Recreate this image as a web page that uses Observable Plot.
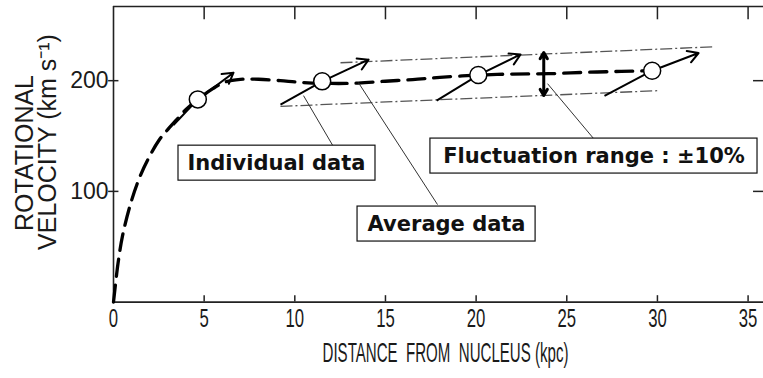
<!DOCTYPE html>
<html><head><meta charset="utf-8">
<script src="https://cdn.jsdelivr.net/npm/d3@7"></script>
<script src="https://cdn.jsdelivr.net/npm/@observablehq/plot@0.6"></script>
<style>body{margin:0;background:#fff;} svg{display:block}</style>
</head><body><div id="chart"></div>
<script>
// ---- data ----
const xTicks = [0, 5, 10, 15, 20, 25, 30, 35];
const yTicks = [100, 200];
const avgX = [0, 0.25, 0.5, 1, 1.5, 2, 2.5, 3, 3.5, 4, 4.65, 5.5, 6.2, 7, 8, 9.2, 10.3, 12, 13.5, 15, 16.5, 18, 20.1, 22, 24, 26, 28, 29.7];
const avgY = [0, 35, 60, 92, 115, 132, 146, 156, 165, 174, 183, 193, 199, 201.2, 201.3, 200, 198.5, 197.5, 197.8, 199.5, 201, 203, 205, 206, 206.3, 207.5, 208.4, 209];
const indStartX = [3.31, 9.21, 17.82, 27.08];
const indStartY = [160, 178.3, 181.9, 186.2];
const indMidX = [4.65, 11.51, 20.12, 29.71];
const indMidY = [183.1, 199.4, 205.1, 209];
const indEndX = [6.62, 14.07, 22.45, 32.27];
const indEndY = [207.2, 219, 223.7, 225];
const bandX1 = [12.52, 9.21];
const bandY1 = [216.2, 176.8];
const bandX2 = [33.1, 30.06];
const bandY2 = [230.6, 191];
const rangeX = 23.73;
const rangeMid = 205.9;
const rangeEnds = [225.5, 186.5];
const labels = ["Individual data", "Average data", "Fluctuation range : \u00b110%"];
const labelX = [8.99, 18.37, 26.5];
const labelY = [125.5, 70.5, 131.9];
const boxX1 = [3.585, 13.46, 17.48];
const boxX2 = [14.45, 23.28, 35.52];
const boxTop = [141.3, 86.3, 147.7];
const boxBottom = [109.7, 54.7, 116.1];
const leadX1 = [10.48, 13.51, 23.94];
const leadY1 = [186.5, 198.2, 197.3];
const leadX2 = [12.13, 17.87, 26.48];
const leadY2 = [140.4, 88.1, 147.7];
const xTitle = "DISTANCE  FROM  NUCLEUS (kpc)";
const yTitle1 = "ROTATIONAL";
const yTitle2 = "VELOCITY (km s\u207b\u00b9)";

// ---- tables ----
const avg = avgX.map((x, i) => ({x, y: avgY[i]}));
const ind = indStartX.map((x, i) => ({x0: x, y0: indStartY[i], xm: indMidX[i], ym: indMidY[i], x1: indEndX[i], y1: indEndY[i]}));
const bands = bandX1.map((x, i) => ({x1: x, y1: bandY1[i], x2: bandX2[i], y2: bandY2[i]}));
const ann = labels.map((t, i) => ({t, x: labelX[i], y: labelY[i], bx1: boxX1[i], bx2: boxX2[i], bt: boxTop[i], bb: boxBottom[i],
  lx1: leadX1[i], ly1: leadY1[i], lx2: leadX2[i], ly2: leadY2[i]}));
const rng = rangeEnds.map(e => ({x: rangeX, y1: rangeMid, y2: e}));
const xMax = 35.85, yMax = 267;

const chart = Plot.plot({
  width: 763, height: 378,
  marginLeft: 113, marginRight: 0, marginTop: 6, marginBottom: 76.4,
  x: {domain: [0, xMax]},
  y: {domain: [0, yMax]},
  style: {background: "#fff", fontFamily: "'Liberation Sans', Arial, sans-serif", color: "#1a1a1a"},
  marks: [
    // frame (left, top, bottom)
    Plot.ruleX([0], {y1: 0, y2: yMax, stroke: "#222", strokeWidth: 1.6}),
    Plot.ruleY([0, yMax], {x1: 0, x2: xMax, stroke: "#222", strokeWidth: 1.6}),
    // inward ticks
    Plot.ruleX(xTicks.slice(1), {y1: 0, y2: 5.8, stroke: "#222", strokeWidth: 1.5}),
    Plot.ruleX(xTicks.slice(1), {y1: yMax, y2: yMax - 12, stroke: "#222", strokeWidth: 1.5}),
    Plot.ruleY(yTicks, {x1: -0.27, x2: 0.3, stroke: "#222", strokeWidth: 1.5}),
    Plot.ruleY(yTicks, {x1: 35.3, x2: xMax, stroke: "#222", strokeWidth: 1.5}),
    // axes labels
    Plot.axisX(xTicks, {anchor: "bottom", tickSize: 0, tickPadding: 7, fontSize: 25, label: null, fill: "#1a1a1a"}),
    Plot.axisY(yTicks, {anchor: "left", tickSize: 0, tickPadding: 5, fontSize: 23, label: null, fill: "#1a1a1a"}),
    Plot.text([xTitle], {frameAnchor: "bottom", dx: 7, dy: 59.5, fontSize: 27.5, fill: "#1a1a1a"}),
    Plot.text([yTitle1], {frameAnchor: "left", textAnchor: "middle", rotate: -90, dx: -89, dy: -1.3, fontSize: 25, fill: "#1a1a1a"}),
    Plot.text([yTitle2], {frameAnchor: "left", textAnchor: "middle", rotate: -90, dx: -65.5, dy: -12.3, fontSize: 25, fill: "#1a1a1a"}),
    // fluctuation band
    Plot.link(bands, {x1: "x1", y1: "y1", x2: "x2", y2: "y2", stroke: "#555", strokeWidth: 1.3, strokeDasharray: "12,3,2,3"}),
    // average curve
    Plot.line(avg, {x: "x", y: "y", curve: "catmull-rom", stroke: "#000", strokeWidth: 3.3, strokeDasharray: "17,9"}),
    // individual data
    Plot.link(ind, {x1: "x0", y1: "y0", x2: "xm", y2: "ym", stroke: "#000", strokeWidth: 2}),
    Plot.arrow(ind, {x1: "xm", y1: "ym", x2: "x1", y2: "y1", stroke: "#000", strokeWidth: 2, headLength: 9}),
    Plot.dot(ind, {x: "xm", y: "ym", r: 8.5, fill: "#fff", stroke: "#000", strokeWidth: 1.5}),
    // range double arrow
    Plot.arrow(rng, {x1: "x", y1: "y1", x2: "x", y2: "y2", stroke: "#000", strokeWidth: 3, headLength: 9}),
    // annotations
    Plot.link(ann, {x1: "lx1", y1: "ly1", x2: "lx2", y2: "ly2", stroke: "#333", strokeWidth: 1}),
    Plot.rect(ann, {x1: "bx1", x2: "bx2", y1: "bb", y2: "bt", fill: "#fff", stroke: "#111", strokeWidth: 1.2}),
    Plot.text(ann, {x: "x", y: "y", text: "t", fontSize: 21, fontWeight: "bold", fontFamily: "'DejaVu Sans', sans-serif", fill: "#111"})
  ]
});
document.getElementById("chart").appendChild(chart);
// condensed lettering for the x axis texts
d3.select(chart).selectAll('g[aria-label="x-axis tick label"] text').each(function() {
  const n = this.textContent.length;
  this.setAttribute("textLength", n * 9.3);
  this.setAttribute("lengthAdjust", "spacingAndGlyphs");
});
d3.select(chart).selectAll("text").filter(function() { return this.textContent === xTitle; }).each(function() {
  this.setAttribute("textLength", 246);
  this.setAttribute("lengthAdjust", "spacingAndGlyphs");
});
</script>
</body></html>
